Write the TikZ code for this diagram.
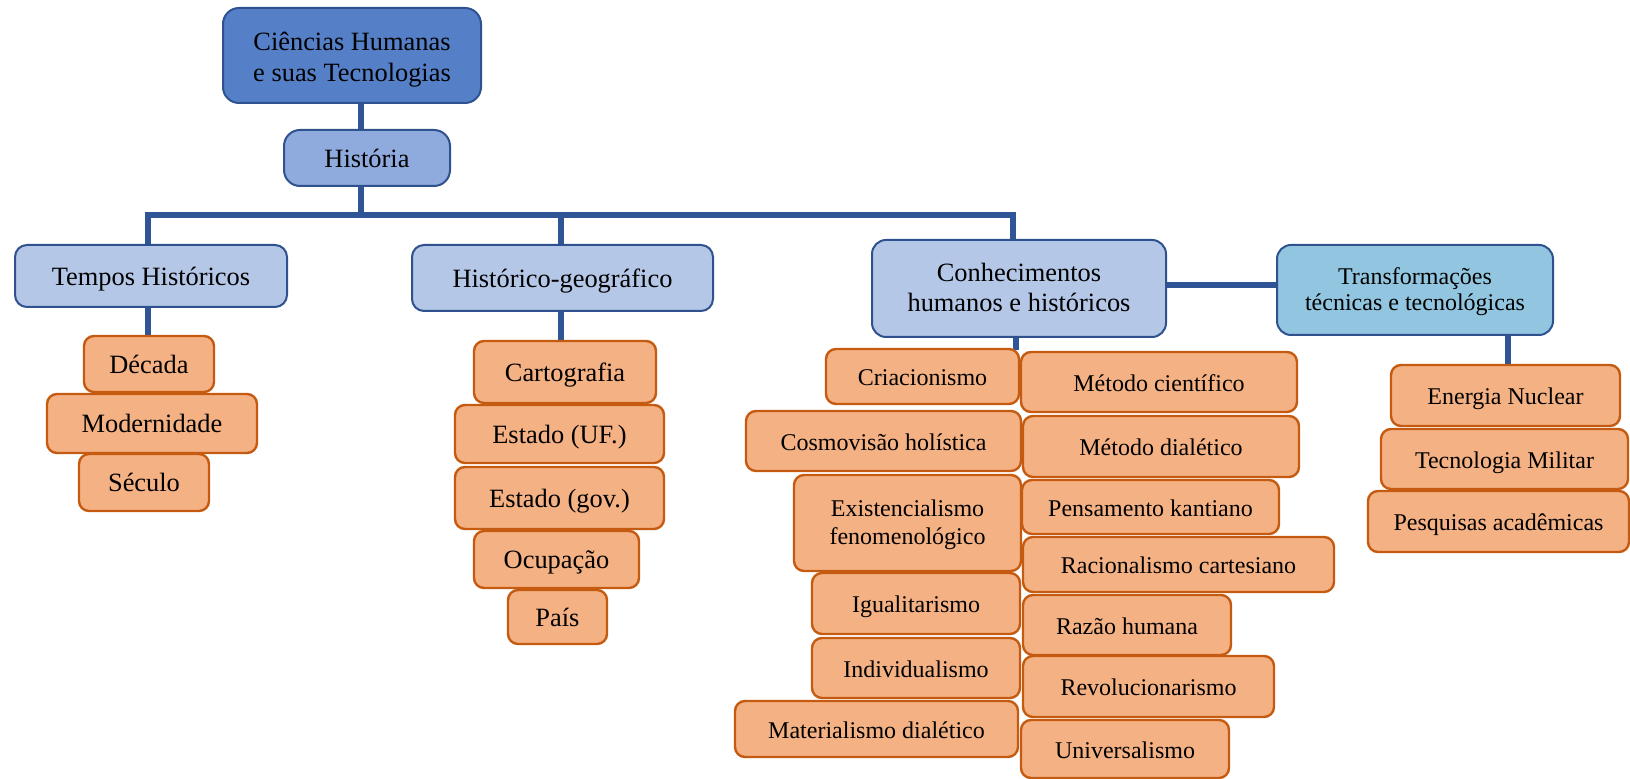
\documentclass[tikz,border=0pt]{standalone}
\usepackage{fontspec}
\setmainfont{Liberation Serif}
\pgfdeclarelayer{bg}
\pgfsetlayers{bg,main}
\definecolor{topfill}{HTML}{5580C8}
\definecolor{histfill}{HTML}{8FAADC}
\definecolor{lvfill}{HTML}{B4C7E7}
\definecolor{trfill}{HTML}{92C6E0}
\definecolor{bborder}{HTML}{2F528F}
\definecolor{conncol}{HTML}{2F5597}
\definecolor{ofill}{HTML}{F4B183}
\definecolor{oborder}{HTML}{C55A11}
\newcommand\placebox[7]{\node[#1, minimum width={(#5-#3)*0.5pt}, minimum height={(#6-#4)*0.5pt}] (#2) at ({(#3+#5)/2},{(#4+#6)/2}) {#7};}
\begin{document}
\begin{tikzpicture}[x=0.5pt,y=-0.5pt,
  oneline/.style={text height=12.3pt, text depth=3pt},
  bluebox/.style={draw=bborder, line width=1pt, rounded corners=8pt, inner sep=0pt, align=center, font=\fontsize{13.2}{15}\selectfont},
  topbox/.style={bluebox, fill=topfill, font=\fontsize{13.2}{15.5}\selectfont, text height=29.5pt, text depth=3pt},
  histbox/.style={bluebox, fill=histfill, oneline},
  lvbox/.style={bluebox, fill=lvfill, rounded corners=6pt, oneline},
  conhbox/.style={bluebox, fill=lvfill, rounded corners=7pt, text height=26.4pt, text depth=3pt},
  trbox/.style={bluebox, fill=trfill, rounded corners=7pt, font=\fontsize{12}{13}\selectfont, text height=24pt, text depth=3pt},
  obox/.style={draw=oborder, fill=ofill, line width=1.2pt, rounded corners=5pt, inner sep=0pt, align=center, font=\fontsize{12}{14}\selectfont, oneline},
  oboxL/.style={obox, font=\fontsize{13.2}{15}\selectfont},
  oboxTwo/.style={obox, font=\fontsize{12}{14.2}\selectfont, text height=25pt, text depth=3pt},
  conn/.style={draw=conncol, line width=2.8pt}]
\useasboundingbox (0,0) rectangle (1630,779);
% top levels
\placebox{topbox}{top}{223}{8}{481}{103}{Ciências Humanas\\e suas Tecnologias}
\placebox{histbox}{hist}{284}{130}{450}{186}{História}
\placebox{lvbox}{tempos}{15}{245}{287}{307}{Tempos Históricos}
\placebox{lvbox}{geo}{412}{245}{713}{311}{Histórico-geográfico}
\placebox{conhbox}{conh}{872}{240}{1166}{337}{Conhecimentos\\humanos e históricos}
\placebox{trbox}{trans}{1277}{245}{1553}{335}{Transformações\\técnicas e tecnológicas}
% Tempos
\placebox{oboxL}{decada}{84}{336}{214}{392}{Década}
\placebox{oboxL}{modern}{47}{394}{257}{453}{Modernidade}
\placebox{oboxL}{seculo}{79}{454}{209}{511}{Século}
% Geo
\placebox{oboxL}{carto}{474}{341}{656}{403}{Cartografia}
\placebox{oboxL}{estuf}{455}{405}{664}{463}{Estado (UF.)}
\placebox{oboxL}{estgov}{455}{467}{664}{529}{Estado (gov.)}
\placebox{oboxL}{ocup}{474}{531}{639}{588}{Ocupação}
\placebox{oboxL}{pais}{508}{590}{607}{644}{País}
% Conhecimentos left column
\placebox{obox}{cria}{826}{349}{1019}{404}{Criacionismo}
\placebox{obox}{cosmo}{746}{411}{1021}{471}{Cosmovisão holística}
\placebox{oboxTwo}{exist}{794}{475}{1021}{571}{Existencialismo\\fenomenológico}
\placebox{obox}{igual}{812}{573}{1020}{634}{Igualitarismo}
\placebox{obox}{indiv}{812}{638}{1020}{698}{Individualismo}
\placebox{obox}{mater}{735}{701}{1018}{757}{Materialismo dialético}
% Conhecimentos right column
\placebox{obox}{metc}{1021}{352}{1297}{412}{Método científico}
\placebox{obox}{metd}{1023}{416}{1299}{477}{Método dialético}
\placebox{obox}{kant}{1022}{480}{1279}{534}{Pensamento kantiano}
\placebox{obox}{racio}{1023}{537}{1334}{592}{Racionalismo cartesiano}
\placebox{obox}{razao}{1023}{595}{1231}{655}{Razão humana}
\placebox{obox}{revol}{1023}{656}{1274}{717}{Revolucionarismo}
\placebox{obox}{univ}{1021}{720}{1229}{778}{Universalismo}
% Transformações
\placebox{obox}{energia}{1391}{365}{1620}{426}{Energia Nuclear}
\placebox{obox}{tecmil}{1381}{429}{1628}{489}{Tecnologia Militar}
\placebox{obox}{pesq}{1368}{491}{1629}{552}{Pesquisas acadêmicas}
% junction coordinates
\coordinate (jtop) at (361,215);
\coordinate (jL) at (148,215);
\coordinate (jG) at (561,215);
\coordinate (jR) at (1013,215);
\coordinate (jC) at (1016,350);
\coordinate (jT) at (1508,365);
\begin{pgfonlayer}{bg}
\draw[conn] (top.south -| jtop) -- (hist.north -| jtop);
\draw[conn] (hist.south -| jtop) -- (jtop);
\draw[conn] (tempos.north -| jL) -- (jL) -- (jR) -- (conh.north -| jR);
\draw[conn] (jG) -- (geo.north -| jG);
\draw[conn] (tempos.south -| jL) -- (decada.north -| jL);
\draw[conn] (geo.south -| jG) -- (carto.north -| jG);
\draw[conn] (conh.south -| jC) -- (jC);
\draw[conn] (conh.east |- 0,285) -- (trans.west |- 0,285);
\draw[conn] (trans.south -| jT) -- (energia.north -| jT);
\end{pgfonlayer}
\end{tikzpicture}
\end{document}
